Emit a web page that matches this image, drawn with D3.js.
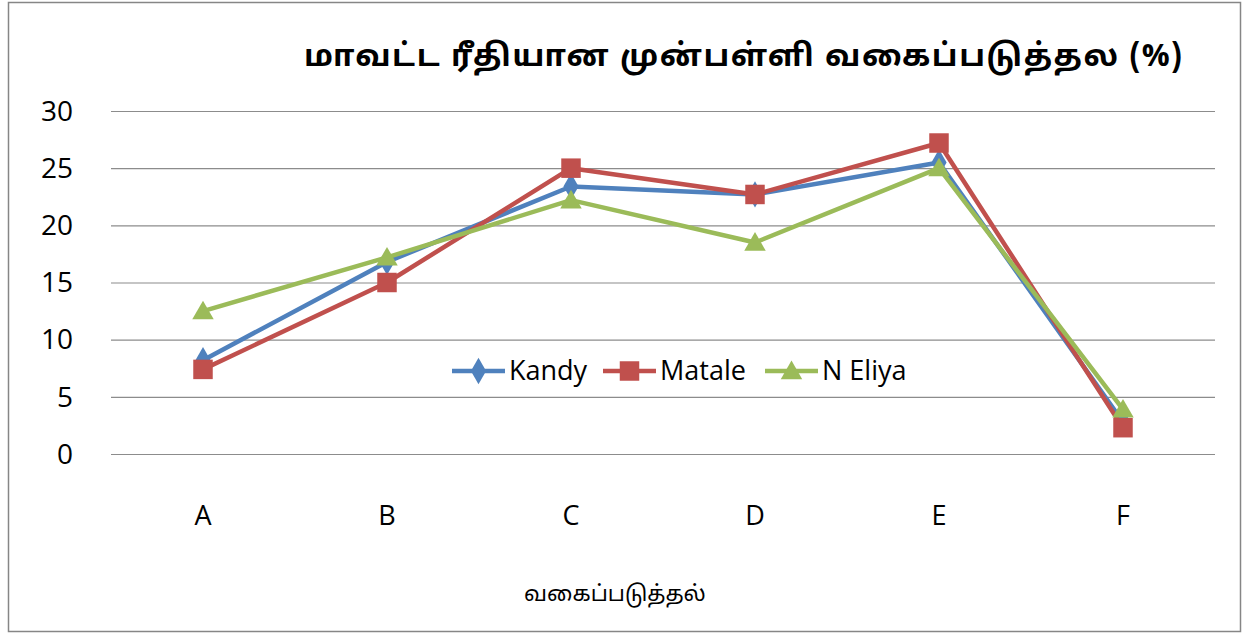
<!DOCTYPE html>
<html><head><meta charset="utf-8">
<script src="https://cdn.jsdelivr.net/npm/d3@7"></script>
<style>body{margin:0;background:#fff}svg{display:block}</style>
</head><body>
<script>
const categories = ["A","B","C","D","E","F"];
const kandy   = [8.2, 16.8, 23.4, 22.7, 25.5, 2.8];
const matale  = [7.4, 15.0, 25.0, 22.7, 27.2, 2.3];
const nEliya  = [12.5, 17.2, 22.2, 18.5, 25.0, 3.9];
const yTicks  = [0, 5, 10, 15, 20, 25, 30];
const seriesNames = ["Kandy", "Matale", "N Eliya"];
const titleText = "மாவட்ட ரீதியான முன்பள்ளி வகைப்படுத்தல (%)";
const xTitleText = "வகைப்படுத்தல்";

const W = 1249, H = 635;
const svg = d3.select("body").append("svg").attr("width", W).attr("height", H);
svg.append("rect").attr("x", 8.5).attr("y", 2.5).attr("width", 1232).attr("height", 629)
  .attr("fill", "#fff").attr("stroke", "#868686").attr("stroke-width", 1.5);

const x = d3.scalePoint().domain(categories).range([111, 1215]).padding(0.5);
const y = d3.scaleLinear().domain([0, 30]).range([454, 111]);

const font = "'Open Sans', 'Noto Sans', sans-serif";
const tamilFont = "'Noto Sans Tamil','Latha','Noto Sans',sans-serif";

// gridlines
svg.append("g").selectAll("line").data(yTicks).join("line")
  .attr("x1", 111).attr("x2", 1215)
  .attr("y1", d => y(d) + 0.5).attr("y2", d => y(d) + 0.5)
  .attr("stroke", "#8c8c8c").attr("stroke-width", 1.2);

// y tick labels
svg.append("g").selectAll("text").data(yTicks).join("text")
  .attr("x", 73).attr("y", d => y(d)).attr("dy", "0.35em")
  .attr("text-anchor", "end").attr("font-family", font).attr("font-size", 28)
  .attr("fill", "#000").text(d => d);

// x labels
svg.append("g").selectAll("text").data(categories).join("text")
  .attr("x", d => x(d)).attr("y", 516).attr("dy", "0.35em")
  .attr("text-anchor", "middle").attr("font-family", font).attr("font-size", 27)
  .attr("fill", "#000").text(d => d);

// titles
svg.append("text").attr("x", 743).attr("y", 55).attr("dy", "0.35em")
  .attr("text-anchor", "middle").attr("font-family", tamilFont)
  .attr("font-weight", "bold").attr("font-size", 31)
  .attr("textLength", 878).attr("lengthAdjust", "spacing").text(titleText);
svg.append("text").attr("x", 615).attr("y", 593).attr("dy", "0.35em")
  .attr("text-anchor", "middle").attr("font-family", tamilFont)
  .attr("font-size", 22).text(xTitleText);

const series = [
  {name: seriesNames[0], values: kandy, color: "#4F81BD", sym: "diamond"},
  {name: seriesNames[1], values: matale, color: "#C0504D", sym: "square"},
  {name: seriesNames[2], values: nEliya, color: "#9BBB59", sym: "triangle"}
];
const symType = {diamond: d3.symbolDiamond, square: d3.symbolSquare, triangle: d3.symbolTriangle};
const symSize = {diamond: 200, square: 380, triangle: 200};
const line = d3.line().x((d, i) => x(categories[i])).y(d => y(d));

series.forEach(s => {
  const g = svg.append("g");
  g.append("path").attr("d", line(s.values)).attr("fill", "none")
    .attr("stroke", s.color).attr("stroke-width", 4.5).attr("stroke-linejoin", "round");
  g.selectAll("path.m").data(s.values).join("path").attr("class", "m")
    .attr("transform", (d, i) => `translate(${x(categories[i])},${y(d) + (s.sym === "triangle" ? 2 : 0)})`)
    .attr("d", d3.symbol().type(symType[s.sym]).size(symSize[s.sym]))
    .attr("fill", s.color);
});

// legend
const legendPos = [452, 603, 765];
series.forEach((s, i) => {
  const lx = legendPos[i], ly = 371;
  svg.append("line").attr("x1", lx).attr("x2", lx + 53).attr("y1", ly).attr("y2", ly)
    .attr("stroke", s.color).attr("stroke-width", 4.5);
  svg.append("path").attr("transform", `translate(${lx + 26.5},${ly + (s.sym === "triangle" ? 2 : 0)})`)
    .attr("d", d3.symbol().type(symType[s.sym]).size(symSize[s.sym]))
    .attr("fill", s.color);
  svg.append("text").attr("x", lx + 57).attr("y", ly).attr("dy", "0.35em")
    .attr("font-family", font).attr("font-size", 27).attr("fill", "#000").text(s.name);
});
</script>
</body></html>
